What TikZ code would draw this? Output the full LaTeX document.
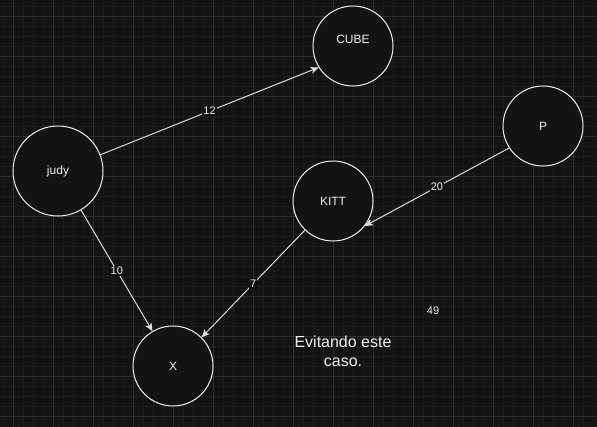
\documentclass[tikz,border=0pt]{standalone}
\usepackage{fontspec}
\setmainfont{Liberation Sans}
\usetikzlibrary{arrows.meta}
\definecolor{bg}{HTML}{131313}
\definecolor{minorc}{HTML}{1C1C1C}
\definecolor{majorc}{HTML}{2E2E2E}
\definecolor{fg}{HTML}{F0F0F0}
\tikzset{
  vertex/.style={circle, draw=fg, fill=bg, line width=1pt, minimum size=80pt, inner sep=0pt, text=fg, font=\fontsize{12}{14}\selectfont},
  edge/.style={draw=fg!92!black, line width=1pt, -{Stealth[length=8pt,width=7pt,inset=2pt]}},
  elabel/.style={fill=bg, text=fg, inner sep=1pt, font=\fontsize{11}{13}\selectfont},
  minorline/.style={draw=minorc, line width=0.8pt},
  majorline/.style={draw=majorc, line width=1pt},
  plaintext/.style={text=fg, align=center}
}
\begin{document}
\begin{tikzpicture}[x=1pt,y=-1pt]
\fill[bg] (0,0) rectangle (597,426);
\useasboundingbox (0,0) rectangle (597,426);
\foreach \x in {3,13,...,593} \draw[minorline] (\x,0) -- (\x,426);
\foreach \y in {6,16,...,426} \draw[minorline] (0,\y) -- (597,\y);
\foreach \x in {13,53,...,573} \draw[majorline] (\x,0) -- (\x,426);
\foreach \y in {16,56,...,416} \draw[majorline] (0,\y) -- (597,\y);

\node[vertex] (cube) at (353,46) {};
\node[text=fg, font=\fontsize{12}{14}\selectfont] (cubelbl) at (353,39) {CUBE};
\node[vertex, minimum size=90pt] (judy) at (58,171) {judy};
\node[vertex] (p) at (543,126) {P};
\node[vertex] (kitt) at (333,201) {KITT};
\node[vertex] (x) at (173,366) {X};

\draw[edge] (judy.21) -- node[elabel, pos=0.5] {12} (cube.212);
\draw[edge] (judy) -- node[elabel, pos=0.5] {10} (x);
\draw[edge] (p.213) -- node[elabel, pos=0.5] {20} (kitt.322);
\draw[edge] (kitt.226) -- node[elabel, pos=0.5] {7} (x.45);

\node[plaintext, font=\fontsize{11}{13}\selectfont] (n49) at (433,311) {49};
\node[plaintext, font=\fontsize{16}{19}\selectfont] (evit) at (343,351) {Evitando este\\caso.};
\end{tikzpicture}
\end{document}
